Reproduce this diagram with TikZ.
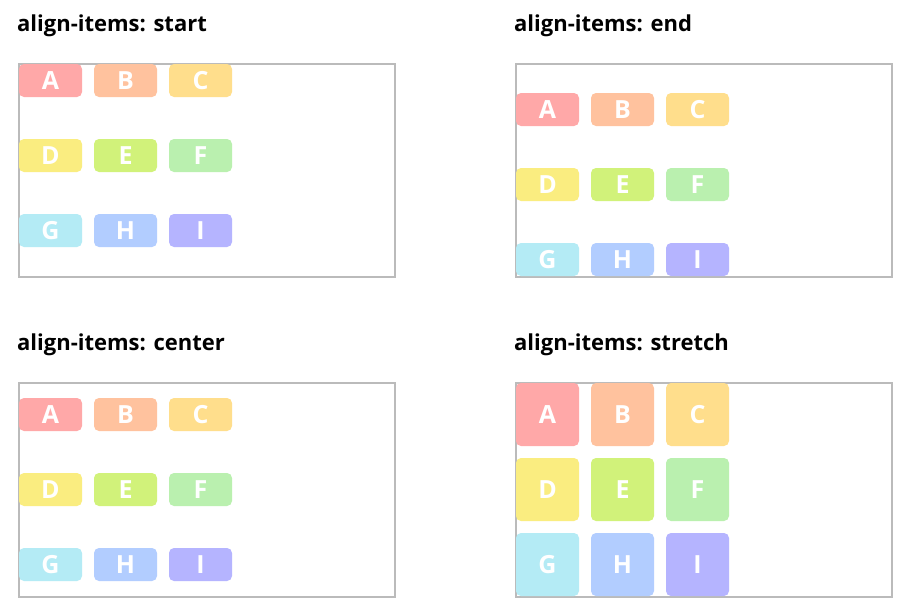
\documentclass[tikz,border=0pt]{standalone}
\usepackage{fontspec}
\setmainfont{Open Sans}
\definecolor{panelgray}{RGB}{187,187,187}
\definecolor{cA}{RGB}{255,168,168}
\definecolor{cB}{RGB}{255,194,158}
\definecolor{cC}{RGB}{255,222,140}
\definecolor{cD}{RGB}{250,237,128}
\definecolor{cE}{RGB}{209,242,122}
\definecolor{cF}{RGB}{186,240,175}
\definecolor{cG}{RGB}{180,235,245}
\definecolor{cH}{RGB}{178,205,255}
\definecolor{cI}{RGB}{181,180,255}
\begin{document}
\begin{tikzpicture}[x=1pt,y=-1pt,
  panel/.style={draw=panelgray, line width=2pt},
  item/.style={rounded corners=5pt, inner sep=0pt, minimum width=63pt, text=white,
    font=\bfseries\fontsize{25}{25}\selectfont},
  title/.style={anchor=base west, inner sep=0pt, font=\bfseries\fontsize{22}{26}\selectfont}]
\useasboundingbox[fill=white] (0,0) rectangle (911,611);
% titles
\node[title] (t1) at (17,31) {align-items: start};
\node[title] (t2) at (514,31) {align-items: end};
\node[title] (t3) at (17,350) {align-items: center};
\node[title] (t4) at (514,350) {align-items: stretch};
% panels
\node[panel, minimum width=376pt, minimum height=213pt, inner sep=0pt, anchor=north west] (p1) at (18,63) {};
\node[panel, minimum width=376pt, minimum height=213pt, inner sep=0pt, anchor=north west] (p2) at (515,63) {};
\node[panel, minimum width=376pt, minimum height=214pt, inner sep=0pt, anchor=north west] (p3) at (18,382) {};
\node[panel, minimum width=376pt, minimum height=214pt, inner sep=0pt, anchor=north west] (p4) at (515,382) {};
% items
\foreach \L/\c/\r in {A/0/0,B/1/0,C/2/0,D/0/1,E/1/1,F/2/1,G/0/2,H/1/2,I/2/2}{
  \node[item, fill=c\L, minimum height=33pt] (s-\L) at ({50.5+75*\c},{80.5+75*\r}) {\L};
  \node[item, fill=c\L, minimum height=33pt] (e-\L) at ({547.5+75*\c},{109.5+75*\r}) {\L};
  \node[item, fill=c\L, minimum height=33pt] (m-\L) at ({50.5+75*\c},{414.5+75*\r}) {\L};
  \node[item, fill=c\L, minimum height=63pt] (x-\L) at ({547.5+75*\c},{414.5+75*\r}) {\L};
}
\end{tikzpicture}
\end{document}
